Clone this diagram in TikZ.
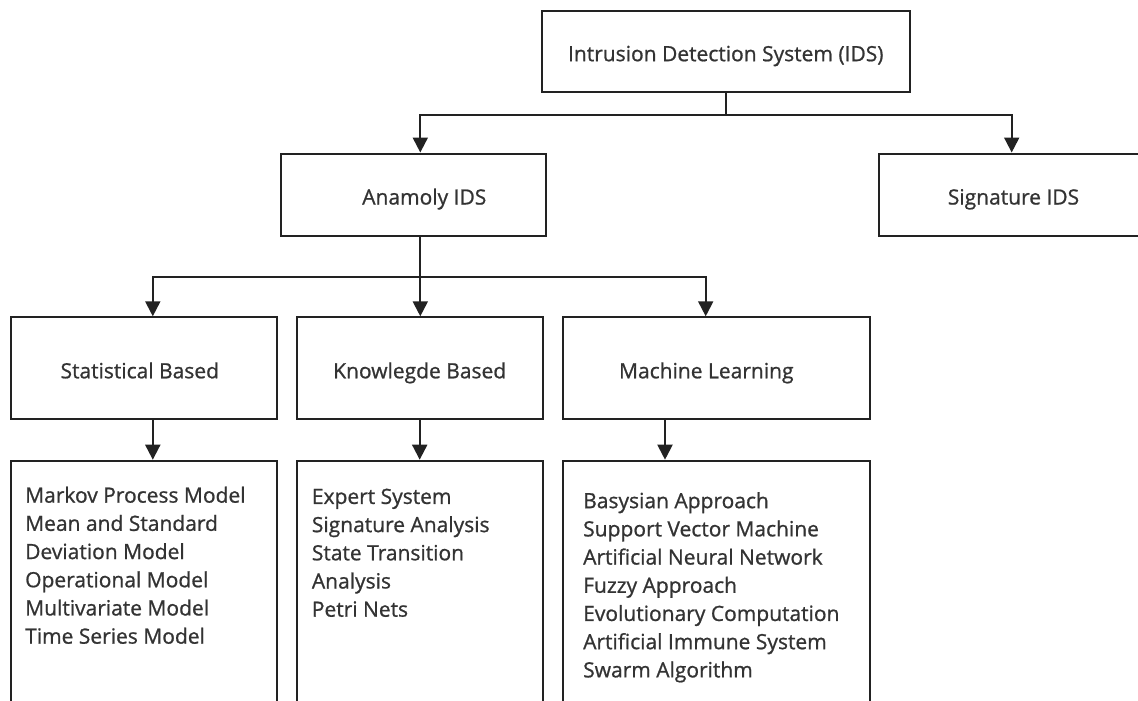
\documentclass[tikz,border=0pt]{standalone}
\usepackage{fontspec}
\setmainfont{Open Sans}[FakeBold=0.9]
\usetikzlibrary{arrows.meta,calc}
\definecolor{linec}{HTML}{222222}
\definecolor{textc}{HTML}{333333}
\begin{document}
\begin{tikzpicture}[x=1pt,y=-1pt,
  box/.style={draw=linec, line width=2pt, rectangle, inner sep=0pt,
    font=\fontsize{21}{25}\selectfont, text=textc,
    text height=20pt, text depth=0pt},
  tshift/.style={execute at begin node={\hspace*{#1}}},
  link/.style={draw=linec, line width=2pt},
  arr/.style={link, -{Triangle[length=15pt,width=15pt]}},
  listtext/.style={align=left, anchor=north west, inner sep=0pt, text=textc,
    font=\fontsize{21}{28.2}\selectfont}]
\useasboundingbox (0,0) rectangle (1138,701);
\fill[white] (0,0) rectangle (1138,701);
\clip (0,0) rectangle (1138,701);

% top level
\node[box, minimum width=368pt, minimum height=81pt] (ids) at (725.8,51.2)
  {Intrusion Detection System (IDS)};

% second level
\node[box, tshift=22pt, minimum width=265pt, minimum height=82pt] (anom) at (413.3,194.5) {Anamoly IDS};
\node[box, tshift=-22pt, minimum width=291pt, minimum height=82pt] (sig) at (1024.5,194.5) {Signature IDS};

% third level
\node[box, tshift=-8pt, minimum width=265.7pt, minimum height=102pt] (stat) at (143.8,368.3) {Statistical Based};
\node[box, minimum width=246pt, minimum height=102pt] (know) at (419.7,368.3) {Knowlegde Based};
\node[box, tshift=-20pt, minimum width=307.3pt, minimum height=102pt] (ml) at (716.3,368.3) {Machine Learning};

% method lists (running past the lower edge)
\node[box, minimum width=265.7pt, minimum height=280pt] (slist) at (143.8,600.7) {};
\node[box, minimum width=246pt, minimum height=280pt] (klist) at (419.7,600.7) {};
\node[box, minimum width=307.3pt, minimum height=280pt] (mlist) at (716.3,600.7) {};

\node[listtext] (stext) at (25,486.5) {Markov Process Model\\Mean and Standard\\Deviation Model\\Operational Model\\Multivariate Model\\Time Series Model};
\node[listtext] (ktext) at (311.7,488.5) {Expert System\\Signature Analysis\\State Transition\\Analysis\\Petri Nets};
\node[listtext] (mtext) at (583,492) {Basysian Approach\\Support Vector Machine\\Artificial Neural Network\\Fuzzy Approach\\Evolutionary Computation\\Artificial Immune System\\Swarm Algorithm};

% connectors
\coordinate (j1) at ($(ids.south)+(0,22.6)$);
\draw[link] (ids.south) -- (j1);
\draw[arr] (j1) -| ([xshift=7pt]anom.north);
\draw[arr] (j1) -| ([xshift=-12.8pt]sig.north);

\coordinate (j2) at ($(anom.south)+(7,40.3)$);
\draw[link] ([xshift=7pt]anom.south) -- (j2);
\draw[arr] (j2) -| ([xshift=9pt]stat.north);
\draw[arr] (j2) -- (j2 |- know.north);
\draw[arr] (j2) -| ([xshift=-10.6pt]ml.north);

\draw[arr] ([xshift=9pt]stat.south) -- ([xshift=9pt]slist.north);
\draw[arr] (know.south) -- (klist.north);
\draw[arr] ([xshift=-51.3pt]ml.south) -- ([xshift=-51.3pt]mlist.north);
\end{tikzpicture}
\end{document}
